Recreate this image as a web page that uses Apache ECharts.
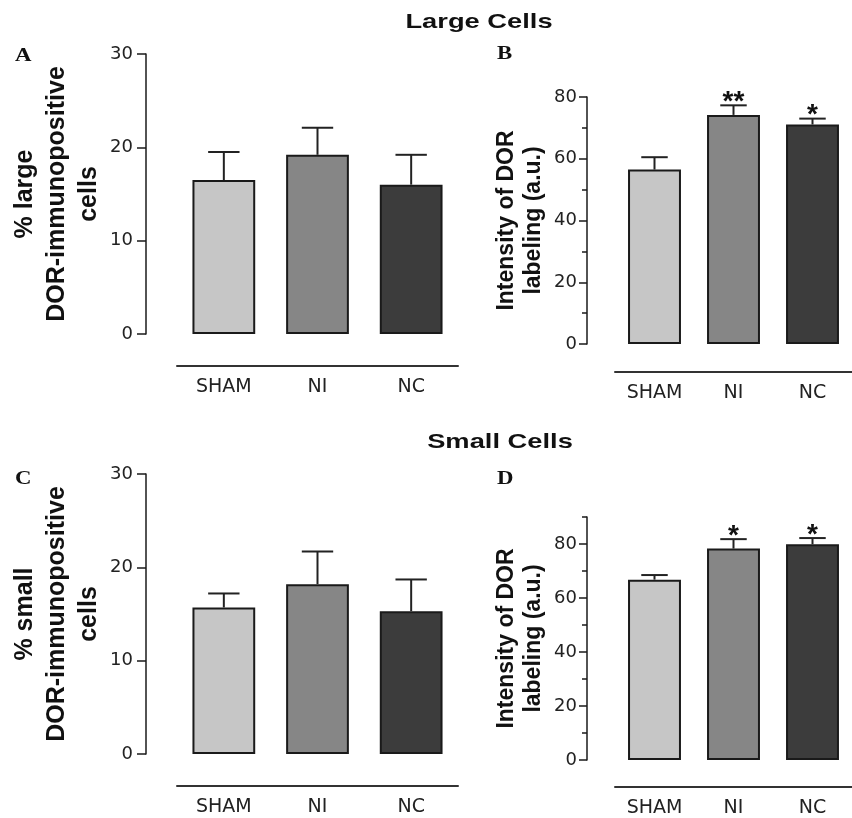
<!DOCTYPE html>
<html>
<head>
<meta charset="utf-8">
<script src="https://cdn.jsdelivr.net/npm/echarts@6/dist/echarts.min.js"></script>
<style>
html,body{margin:0;padding:0;background:#fff;}
#chart{width:852px;height:818px;}
</style>
</head>
<body>
<div id="chart"></div>
<script>
// ---- data ----
const categories = ['SHAM', 'NI', 'NC'];
const largePct = [16.5, 19.2, 16.0];
const largePctErr = [3.0, 2.9, 3.2];
const largeInt = [56.5, 74.2, 71.1];
const largeIntErr = [4.0, 3.1, 1.9];
const smallPct = [15.7, 18.2, 15.3];
const smallPctErr = [1.5, 3.5, 3.4];
const smallInt = [66.8, 78.3, 79.9];
const smallIntErr = [1.7, 3.5, 2.3];
const largeIntStars = ['', '**', '*'];
const smallIntStars = ['', '*', '*'];
const intMajorTicks = [0, 20, 40, 60, 80];
const intMinorTicksB = [10, 30, 50, 70];
const intMinorTicksD = [10, 30, 50, 70, 90];

// ---- styles ----
const barColors = ['#c6c6c6', '#868686', '#3c3c3c'];
const ink = '#1a1a1a';
const tickFont = 'DejaVu Sans';

const chart = echarts.init(document.getElementById('chart'), null, {renderer: 'canvas'});

const grids = [
  {left: 177, top: 54, width: 281, height: 280},
  {left: 615, top: 97, width: 248, height: 247},
  {left: 177, top: 474, width: 281, height: 280},
  {left: 615, top: 517, width: 248, height: 247}
];

const xAxes = [0, 1, 2, 3].map((g) => ({
  type: 'category', gridIndex: g, data: categories,
  offset: [32, 28, 32, 27][g],
  axisLine: {onZero: false, lineStyle: {color: '#333', width: 2}},
  axisTick: {show: false},
  axisLabel: {margin: 12, fontSize: 19, fontFamily: tickFont, color: '#222'}
}));

const nameStyleA = {fontFamily: 'Liberation Sans', fontWeight: 'bold', fontSize: 25, lineHeight: 32, color: '#111'};
const nameStyleB = {fontFamily: 'Liberation Sans', fontWeight: 'bold', fontSize: 23, lineHeight: 27, color: '#111'};

function pctAxis(g, name) {
  return {
    type: 'value', gridIndex: g, min: 0, max: 30, interval: 10, offset: 31,
    splitLine: {show: false},
    axisLine: {show: true, onZero: false, lineStyle: {color: ink, width: 1.5}},
    axisTick: {show: true, length: 9, lineStyle: {color: ink, width: 1.5}},
    axisLabel: {margin: 13, fontSize: 18, fontFamily: tickFont, color: '#222'},
    name: name, nameLocation: 'middle', nameRotate: 90, nameGap: 41, nameTextStyle: nameStyleA
  };
}
function intAxis(g, max, name) {
  return {
    type: 'value', gridIndex: g, min: 0, max: max, interval: 10, offset: 28,
    splitLine: {show: false},
    axisLine: {show: true, onZero: false, lineStyle: {color: ink, width: 1.5}},
    axisTick: {show: true, length: 8, customValues: intMajorTicks, lineStyle: {color: ink, width: 1.5}},
    axisLabel: {margin: 10, fontSize: 18, fontFamily: tickFont, color: '#222', customValues: intMajorTicks},
    name: name, nameLocation: 'middle', nameRotate: 90, nameGap: 40, nameTextStyle: nameStyleB
  };
}
function minorAxis(g, max, minors) {
  return {
    type: 'value', gridIndex: g, min: 0, max: max, interval: 10, offset: 28, position: 'left',
    splitLine: {show: false},
    axisLine: {show: false, onZero: false},
    axisTick: {show: true, length: 5, customValues: minors, lineStyle: {color: ink, width: 1.5}},
    axisLabel: {show: false}
  };
}

const yAxes = [
  pctAxis(0, '% large\nDOR-immunopositive\ncells'),
  intAxis(1, 80, 'Intensity of DOR\nlabeling (a.u.)'),
  pctAxis(2, '% small\nDOR-immunopositive\ncells'),
  intAxis(3, 90, 'Intensity of DOR\nlabeling (a.u.)'),
  minorAxis(1, 80, intMinorTicksB),
  minorAxis(3, 90, intMinorTicksD)
];

const panels = [
  {vals: largePct, errs: largePctErr, stars: null},
  {vals: largeInt, errs: largeIntErr, stars: largeIntStars},
  {vals: smallPct, errs: smallPctErr, stars: null},
  {vals: smallInt, errs: smallIntErr, stars: smallIntStars}
];

const series = [];
panels.forEach((p, g) => {
  series.push({
    type: 'bar', xAxisIndex: g, yAxisIndex: g, barWidth: '67%',
    data: p.vals.map((v, i) => ({value: v, itemStyle: {color: barColors[i]}})),
    itemStyle: {borderColor: '#1a1a1a', borderWidth: 2},
    silent: true, z: 2
  });
  series.push({
    type: 'custom', xAxisIndex: g, yAxisIndex: g, z: 3, silent: true,
    data: p.vals.map((v, i) => [i, v, p.errs[i]]),
    renderItem: function (params, api) {
      const x = api.value(0), v = api.value(1), e = api.value(2);
      const base = api.coord([x, v]);
      const top = api.coord([x, v + e]);
      const band = api.size([1, 0])[0];
      const half = band * 0.67 / 4;
      const children = [
        {type: 'line', shape: {x1: base[0], y1: base[1], x2: top[0], y2: top[1]}, style: {stroke: '#222', lineWidth: 2}},
        {type: 'line', shape: {x1: top[0] - half, y1: top[1], x2: top[0] + half, y2: top[1]}, style: {stroke: '#222', lineWidth: 2}}
      ];
      const star = p.stars ? p.stars[params.dataIndex] : '';
      if (star) {
        children.push({type: 'text', x: top[0], y: top[1] + 11,
          style: {text: star, textAlign: 'center', textVerticalAlign: 'bottom',
            font: 'bold 28px "Liberation Sans"', fill: '#111'}});
      }
      return {type: 'group', children: children};
    }
  });
});

const titleFont = 'bold 21px "Liberation Sans"';
const letterFont = 'bold 19px "Liberation Serif"';
const graphic = [
  {type: 'text', x: 479, y: 12, scaleX: 1.3, style: {text: 'Large Cells', font: titleFont, fill: '#111', textAlign: 'center', textVerticalAlign: 'top'}},
  {type: 'text', x: 500, y: 432, scaleX: 1.3, style: {text: 'Small Cells', font: titleFont, fill: '#111', textAlign: 'center', textVerticalAlign: 'top'}},
  {type: 'text', x: 15, y: 47, scaleX: 1.2, style: {text: 'A', font: letterFont, fill: '#111', textAlign: 'left', textVerticalAlign: 'top'}},
  {type: 'text', x: 497, y: 45, scaleX: 1.2, style: {text: 'B', font: letterFont, fill: '#111', textAlign: 'left', textVerticalAlign: 'top'}},
  {type: 'text', x: 15, y: 470, scaleX: 1.2, style: {text: 'C', font: letterFont, fill: '#111', textAlign: 'left', textVerticalAlign: 'top'}},
  {type: 'text', x: 497, y: 470, scaleX: 1.2, style: {text: 'D', font: letterFont, fill: '#111', textAlign: 'left', textVerticalAlign: 'top'}}
];

chart.setOption({
  animation: false,
  backgroundColor: '#fff',
  grid: grids,
  xAxis: xAxes,
  yAxis: yAxes,
  series: series,
  graphic: graphic
});
</script>
</body>
</html>
